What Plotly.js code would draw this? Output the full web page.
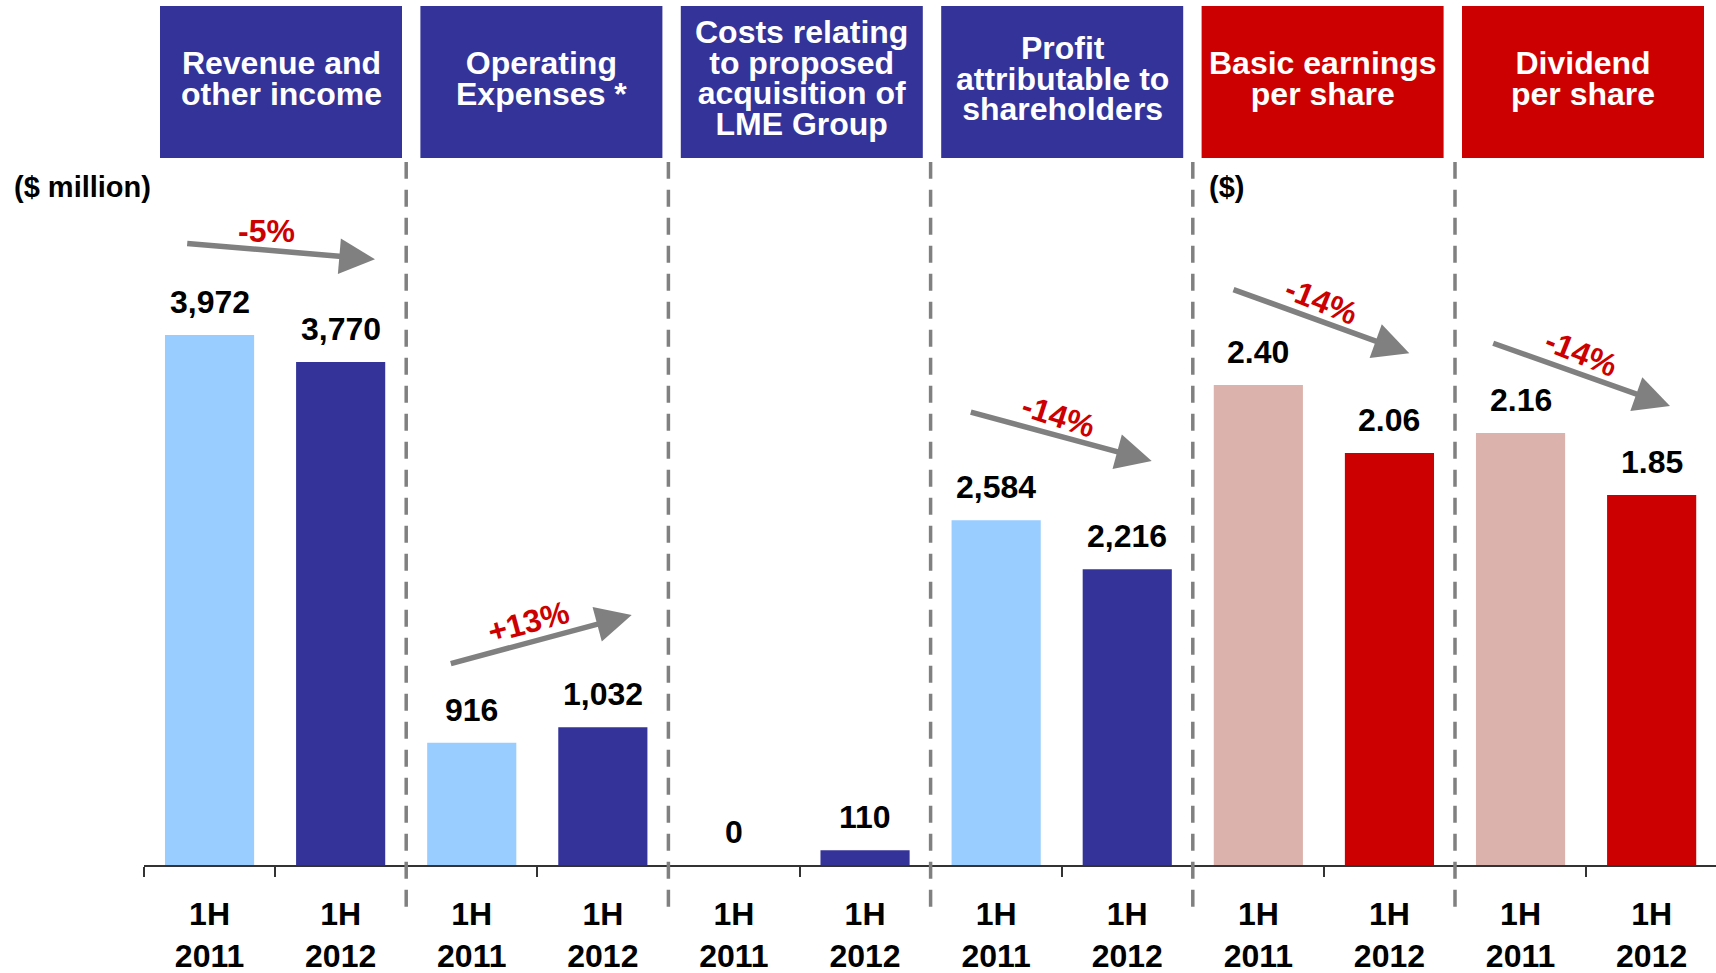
<!DOCTYPE html>
<html>
<head>
<meta charset="utf-8">
<script src="https://cdn.plot.ly/plotly-3.0.1.min.js"></script>
<style>
html,body{margin:0;padding:0;background:#fff;overflow:hidden}
#chart{width:1716px;height:973px}
</style>
</head>
<body>
<div id="chart"></div>
<script>
// ---------------- DATA ----------------
const headerLines = [
  ["Revenue and", "other income"],
  ["Operating", "Expenses *"],
  ["Costs relating", "to proposed", "acquisition of", "LME Group"],
  ["Profit", "attributable to", "shareholders"],
  ["Basic earnings", "per share"],
  ["Dividend", "per share"]
];
const periodLabels = ["1H<br>2011", "1H<br>2012"];
const values2011 = [3972, 916, 0, 2584, 2.40, 2.16];
const values2012 = [3770, 1032, 110, 2216, 2.06, 1.85];
const labels2011 = ["3,972", "916", "0", "2,584", "2.40", "2.16"];
const labels2012 = ["3,770", "1,032", "110", "2,216", "2.06", "1.85"];
const changeLabels = ["-5%", "+13%", "", "-14%", "-14%", "-14%"];
const isPerShare = [false, false, false, false, true, true];
const unitLabels = ["($ million)", "($)"];

// ---------------- STYLE / GEOMETRY ----------------
const FONT = 'Arial, "Liberation Sans", sans-serif';
const W = 1716, H = 973, L = 144, B = 108;
const plotW = W - L, plotH = H - B;
const catW = 131.1;
const xRange = [-0.5, -0.5 + plotW / catW];
const y1Range = [0, plotH / 0.13343];
const y2Range = [0, plotH / 200];
const pX = px => (px - L) / plotW;
const pY = py => (plotH - py) / plotH;
const dX = xv => (xv - xRange[0]) / (xRange[1] - xRange[0]);

const colLight = {m: '#99CCFF', s: '#DBB3AC'};
const colDark = {m: '#333399', s: '#CC0000'};
const boxCol = {m: '#333399', s: '#CC0000'};
const HEADER_SIZE = 32, HEADER_LEAD = 30.65;

// ---------------- TRACES ----------------
function makeTrace(values, p, perShare, color) {
  const xs = [], ys = [];
  values.forEach((v, g) => {
    if (isPerShare[g] === perShare) { xs.push(2 * g + p); ys.push(v); }
  });
  return {
    type: 'bar', x: xs, y: ys, width: 0.68,
    marker: {color: color, line: {width: 0}},
    yaxis: perShare ? 'y2' : 'y', hoverinfo: 'skip', showlegend: false
  };
}
const traces = [
  makeTrace(values2011, 0, false, colLight.m),
  makeTrace(values2012, 1, false, colDark.m),
  makeTrace(values2011, 0, true, colLight.s),
  makeTrace(values2012, 1, true, colDark.s)
];

// ---------------- ANNOTATIONS ----------------
const annotations = [];
// value labels
[values2011, values2012].forEach((vals, p) => {
  const labs = p === 0 ? labels2011 : labels2012;
  vals.forEach((v, g) => {
    annotations.push({
      x: 2 * g + p, y: v, xref: 'x', yref: isPerShare[g] ? 'y2' : 'y',
      text: labs[g], showarrow: false, xanchor: 'center', yanchor: 'middle', yshift: 33,
      font: {family: FONT, size: 32, color: '#000', weight: 'bold'}
    });
  });
});
// header boxes and texts (one text per header; tight leading via base size)
const shapes = [];
headerLines.forEach((lines, g) => {
  const x0 = 160 + 260.4 * g, x1 = x0 + 242;
  const col = isPerShare[g] ? boxCol.s : boxCol.m;
  shapes.push({type: 'rect', xref: 'paper', yref: 'paper',
    x0: pX(x0), x1: pX(x1), y0: pY(158), y1: pY(6),
    fillcolor: col, line: {width: 0}});
  const txt = lines.map(t => '<span style="font-size:' + HEADER_SIZE + 'px">' + t + '</span>').join('<br>');
  annotations.push({
    x: pX((x0 + x1) / 2), y: pY(78.3), xref: 'paper', yref: 'paper',
    text: txt, showarrow: false, xanchor: 'center', yanchor: 'middle', align: 'center',
    font: {family: FONT, size: HEADER_LEAD / 1.3, color: '#fff', weight: 'bold'}
  });
});
// dashed separators
for (let g = 1; g < headerLines.length; g++) {
  const xb = 2 * g - 0.5;
  shapes.push({type: 'line', xref: 'paper', yref: 'paper',
    x0: dX(xb), x1: dX(xb), y0: pY(906.7), y1: pY(162),
    line: {color: '#808080', width: 3.5, dash: '17px,11px'}});
}
// unit labels
annotations.push({x: pX(12), y: pY(187.5), xref: 'paper', yref: 'paper', text: unitLabels[0],
  showarrow: false, xanchor: 'left', yanchor: 'middle',
  font: {family: FONT, size: 29, color: '#000', weight: 'bold'}});
annotations.push({x: pX(1207), y: pY(187.5), xref: 'paper', yref: 'paper', text: unitLabels[1],
  showarrow: false, xanchor: 'left', yanchor: 'middle',
  font: {family: FONT, size: 29, color: '#000', weight: 'bold'}});
// change arrows: [tailX, tailY, tipX, tipY, labelX, labelY, angle]
const arrowGeom = [
  [185.7, 243.3, 375, 259.3, 266.7, 230.5, 0],
  [449.3, 664, 631.7, 615, 528.3, 621.5, -15],
  null,
  [969.3, 411.7, 1151.7, 461, 1058.3, 416, 18],
  [1232, 289, 1409.3, 353.3, 1321, 301, 22],
  [1491.7, 342.7, 1670, 406, 1581, 352.5, 22]
];
changeLabels.forEach((lab, g) => {
  const a = arrowGeom[g];
  if (!lab || !a) return;
  annotations.push({
    x: pX(a[2]), y: pY(a[3]), xref: 'paper', yref: 'paper',
    ax: a[0] - a[2], ay: a[1] - a[3], axref: 'pixel', ayref: 'pixel',
    text: '', showarrow: true, arrowhead: 2, arrowsize: 1.3, arrowwidth: 5.5,
    arrowcolor: '#808080', standoff: 0
  });
  annotations.push({
    x: pX(a[4]), y: pY(a[5]), xref: 'paper', yref: 'paper', text: lab,
    showarrow: false, xanchor: 'center', yanchor: 'middle', textangle: a[6],
    font: {family: FONT, size: 32, color: '#CC0000', weight: 'bold'}
  });
});

// ---------------- LAYOUT ----------------
const tickvals = [], ticktext = [], boundaries = [];
headerLines.forEach((_, g) => {
  periodLabels.forEach((pl, p) => { tickvals.push(2 * g + p); ticktext.push(pl); });
});
for (let i = 0; i <= tickvals.length; i++) boundaries.push(i - 0.5);

const layout = {
  width: W, height: H,
  margin: {l: L, r: 0, t: 0, b: B, pad: 0},
  paper_bgcolor: '#fff', plot_bgcolor: '#fff',
  barmode: 'overlay', showlegend: false,
  xaxis: {
    range: xRange, tickmode: 'array', tickvals: tickvals, ticktext: ticktext,
    ticks: '', showline: true, linecolor: '#333', linewidth: 2,
    showgrid: false, zeroline: false, fixedrange: true, ticklabelstandoff: 20,
    tickfont: {family: FONT, size: 32, color: '#000', weight: 'bold'},
    minor: {tickmode: 'array', tickvals: boundaries, ticks: 'outside', ticklen: 10,
      tickwidth: 2, tickcolor: '#333', showgrid: false}
  },
  yaxis: {range: y1Range, visible: false, fixedrange: true},
  yaxis2: {range: y2Range, visible: false, overlaying: 'y', fixedrange: true},
  shapes: shapes,
  annotations: annotations
};

Plotly.newPlot('chart', traces, layout, {staticPlot: true, displayModeBar: false});
</script>
</body>
</html>
